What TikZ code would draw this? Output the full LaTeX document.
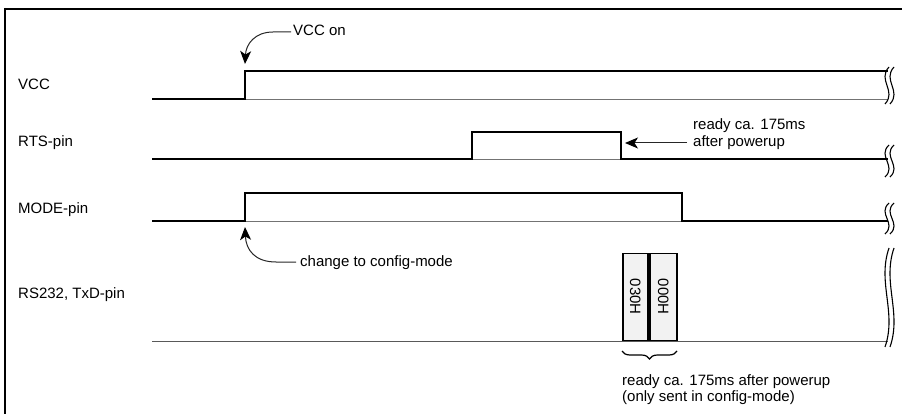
\documentclass[tikz,border=0pt]{standalone}
\usepackage{fontspec}
\setmainfont{Liberation Sans}
\usetikzlibrary{arrows.meta,decorations.pathreplacing}
\begin{document}
\begin{tikzpicture}[x=1pt,y=-1pt,
  lbl/.style={anchor=base west,inner sep=0pt,font=\fontsize{15}{16}\selectfont},
  sig/.style={line width=1.5pt,black,line join=miter},
  base/.style={line width=0.9pt,black!55},
  frame/.style={line width=2.4pt},
  brk/.style={line width=1.1pt},
  arr/.style={line width=1pt,black!85,-{Stealth[length=13pt,width=11pt,inset=3.5pt,black]}},
  byte/.style={draw,line width=1.5pt,fill=black!5,minimum width=25pt,minimum height=87pt,inner sep=0pt,anchor=south west},
  bytetxt/.style={rotate=-90,font=\fontsize{15}{16}\selectfont}
]
\useasboundingbox (0,0) rectangle (902,414);
% frame
\draw[frame] (4,9) -- (903,9);
\draw[frame] (5,8) -- (5,415);

% labels
\node[lbl] (lvcc) at (18,90) {VCC};
\node[lbl] (lrts) at (18,147) {RTS-pin};
\node[lbl] (lmode) at (18,214) {MODE-pin};
\node[lbl] (lrs) at (18,298) {RS232, TxD-pin};

% VCC
\draw[base] (245,99) -- (888,99);
\draw[sig] (152,99) -- (245,99) -- (245,71) -- (888,71);
% RTS
\draw[base] (472,159) -- (621,159);
\draw[sig] (152,159) -- (472,159) -- (472,132) -- (621,132) -- (621,159) -- (888,159);
% MODE
\draw[base] (245,221) -- (682,221);
\draw[sig] (152,221) -- (245,221) -- (245,193) -- (682,193) -- (682,221) -- (888,221);
% RS232
\draw[line width=1pt,black!65] (152,341) -- (888,341);

% bytes
\node[byte] (b1) at (622,341) {};
\node[bytetxt] at (b1.center) {030H};
\node[byte,minimum width=27pt] (b2) at (649,341) {};
\node[bytetxt] at (b2.center) {000H};

% brace
\draw[line width=1.2pt,decorate,decoration={brace,amplitude=8pt}] (677,351) -- (622,351);
\node[lbl] (t1) at (622,385) {ready ca. 175ms after powerup};
\node[lbl] (t2) at (622,401) {(only sent in config-mode)};

% annotations
\node[lbl] (von) at (293,36) {VCC on};
\coordinate (vtip) at (245,64);
\draw[arr] (von.base west) ++(-2,-4) -- ++(-18,0) .. controls (255,32) and (246,44) .. (vtip);

\node[lbl] (cfg) at (300,266) {change to config-mode};
\coordinate (ctip) at (245,227);
\draw[arr] (cfg.base west) ++(-4,-4) -- ++(-20,0) .. controls (255,262) and (246,250) .. (ctip);

\node[lbl] (rdy1) at (693,130) {ready ca. 175ms};
\node[lbl] (rdy2) at (693,147) {after powerup};
\coordinate (rtip) at (625,143);
\draw[arr] (rdy2.base west) ++(-6,-4) -- (rtip);

% break symbols
\foreach \ya/\yb in {67/104, 145/177, 203/234, 248/347}{
  \pgfmathsetmacro{\h}{\yb-\ya}
  \foreach \dx in {0,5}{
    \draw[brk] (889+\dx,\ya) .. controls (877+\dx,\ya+0.35*\h) and (897+\dx,\ya+0.65*\h) .. (885+\dx,\yb);
  }
}
\end{tikzpicture}
\end{document}
